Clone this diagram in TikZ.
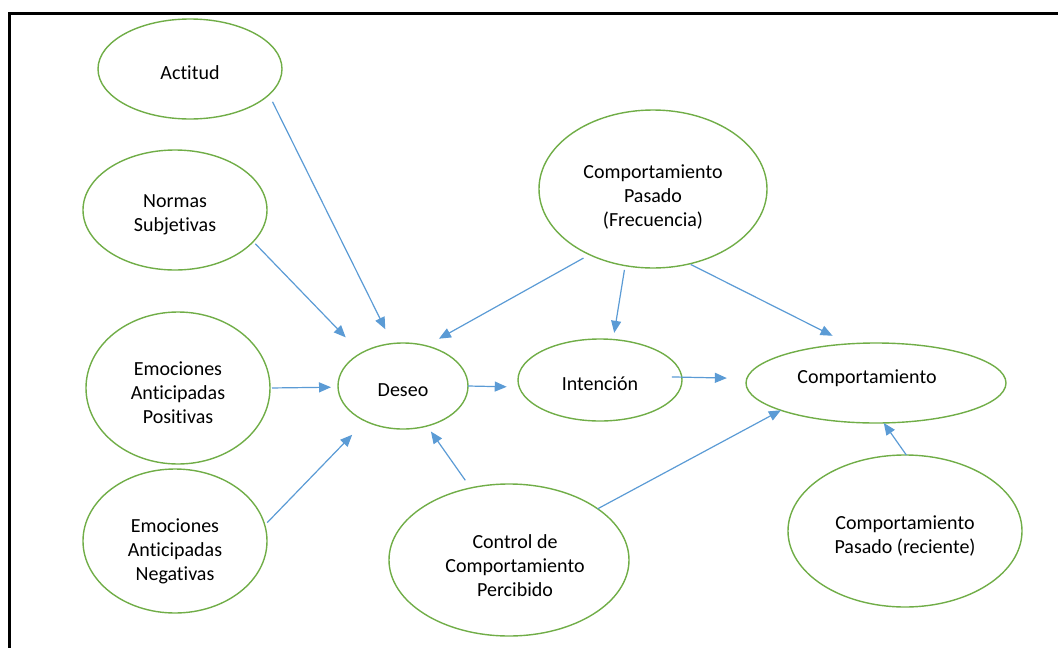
\documentclass[tikz,border=0pt]{standalone}
\usepackage{fontspec}
\setmainfont{Carlito}[Ligatures=NoCommon]
\usetikzlibrary{shapes.geometric,arrows.meta}
\definecolor{egreen}{HTML}{70AD47}
\definecolor{ablue}{HTML}{5B9BD5}
\tikzset{
  ell/.style={draw=egreen, line width=1.4pt, ellipse, inner sep=0pt, outer sep=0pt},
  txt/.style={align=center, inner sep=0pt, font=\fontsize{20}{24}\selectfont},
  conn/.style={draw=ablue, line width=1.2pt, -{Triangle[length=12pt,width=10pt]}},
}
\begin{document}
\begin{tikzpicture}[x=1pt,y=-1pt]
\useasboundingbox (0,0) rectangle (1058,648);
% frame
\coordinate (fl) at (9,648);
\coordinate (ftl) at (9,13);
\coordinate (ftr) at (1058,13);
\draw[line width=3pt] (fl) -- (ftl) -- (ftr);
% ellipses
\node[ell, minimum width=184pt, minimum height=100pt, label={[txt,yshift=-4pt]center:Actitud}] (act) at (190,69) {};
\node[ell, minimum width=184pt, minimum height=120pt, label={[txt,yshift=-5pt]center:Normas\\Subjetivas}] (nor) at (175,210) {};
\node[ell, minimum width=184pt, minimum height=152pt, label={[txt,yshift=-5pt]center:Emociones\\Anticipadas\\Positivas}] (pos) at (178,388) {};
\node[ell, minimum width=184pt, minimum height=144pt, label={[txt,yshift=-10pt]center:Emociones\\Anticipadas\\Negativas}] (neg) at (175,541) {};
\node[ell, minimum width=130pt, minimum height=86pt, label={[txt,yshift=-4pt]center:Deseo}] (des) at (403,386) {};
\node[ell, minimum width=164pt, minimum height=82pt, label={[txt,yshift=-4pt]center:Intención}] (int) at (600,380) {};
\node[ell, minimum width=228pt, minimum height=158pt, label={[txt,yshift=-8pt]center:Comportamiento\\Pasado\\(Frecuencia)}] (frec) at (653,189) {};
\node[ell, minimum width=260pt, minimum height=80pt, label={[txt,xshift=-9pt,yshift=5pt]center:Comportamiento}] (comp) at (876,383) {};
\node[ell, minimum width=234pt, minimum height=152pt, label={[txt,yshift=-5pt]center:Comportamiento\\Pasado (reciente)}] (rec) at (905,531) {};
\node[ell, minimum width=240pt, minimum height=152pt, label={[txt,xshift=6pt,yshift=-6pt]center:Control de\\Comportamiento\\Percibido}] (ctrl) at (509,560) {};
% connectors
\draw[conn, shorten <=8pt, shorten >=16pt] (act.-18.6) -- (des.104.5);
\draw[conn, shorten <=3pt, shorten >=22pt] (nor.-22.5) -- (des.142.5);
\draw[conn, shorten <=2pt, shorten >=7pt] (pos.0) -- (des.181.6);
\draw[conn, shorten <=3.5pt, shorten >=19pt] (neg.10.4) -- (des.223.3);
\draw[conn, shorten >=12.5pt] (des.0) -- (int.185.5);
\draw[conn, shorten <=7pt, shorten >=14.6pt] (frec.226.2) -- (des.60.5);
\draw[conn, shorten <=4.4pt, shorten >=6.8pt] (frec.250.9) -- (int.72.3);
\draw[conn, shorten <=1.3pt, shorten >=18pt] (frec.-64) -- (comp.125.1);
\draw[conn, shorten <=-10pt, shorten >=20pt] (int.2.4) -- (comp.178.9);
\draw[conn, shorten <=9.4pt, shorten >=6.8pt] (ctrl.118.8) -- (des.-59.6);
\draw[conn] (ctrl.30.5) -- (comp.196.2);
\draw[conn] (rec.89.2) -- (comp.-79.6);
\end{tikzpicture}
\end{document}
